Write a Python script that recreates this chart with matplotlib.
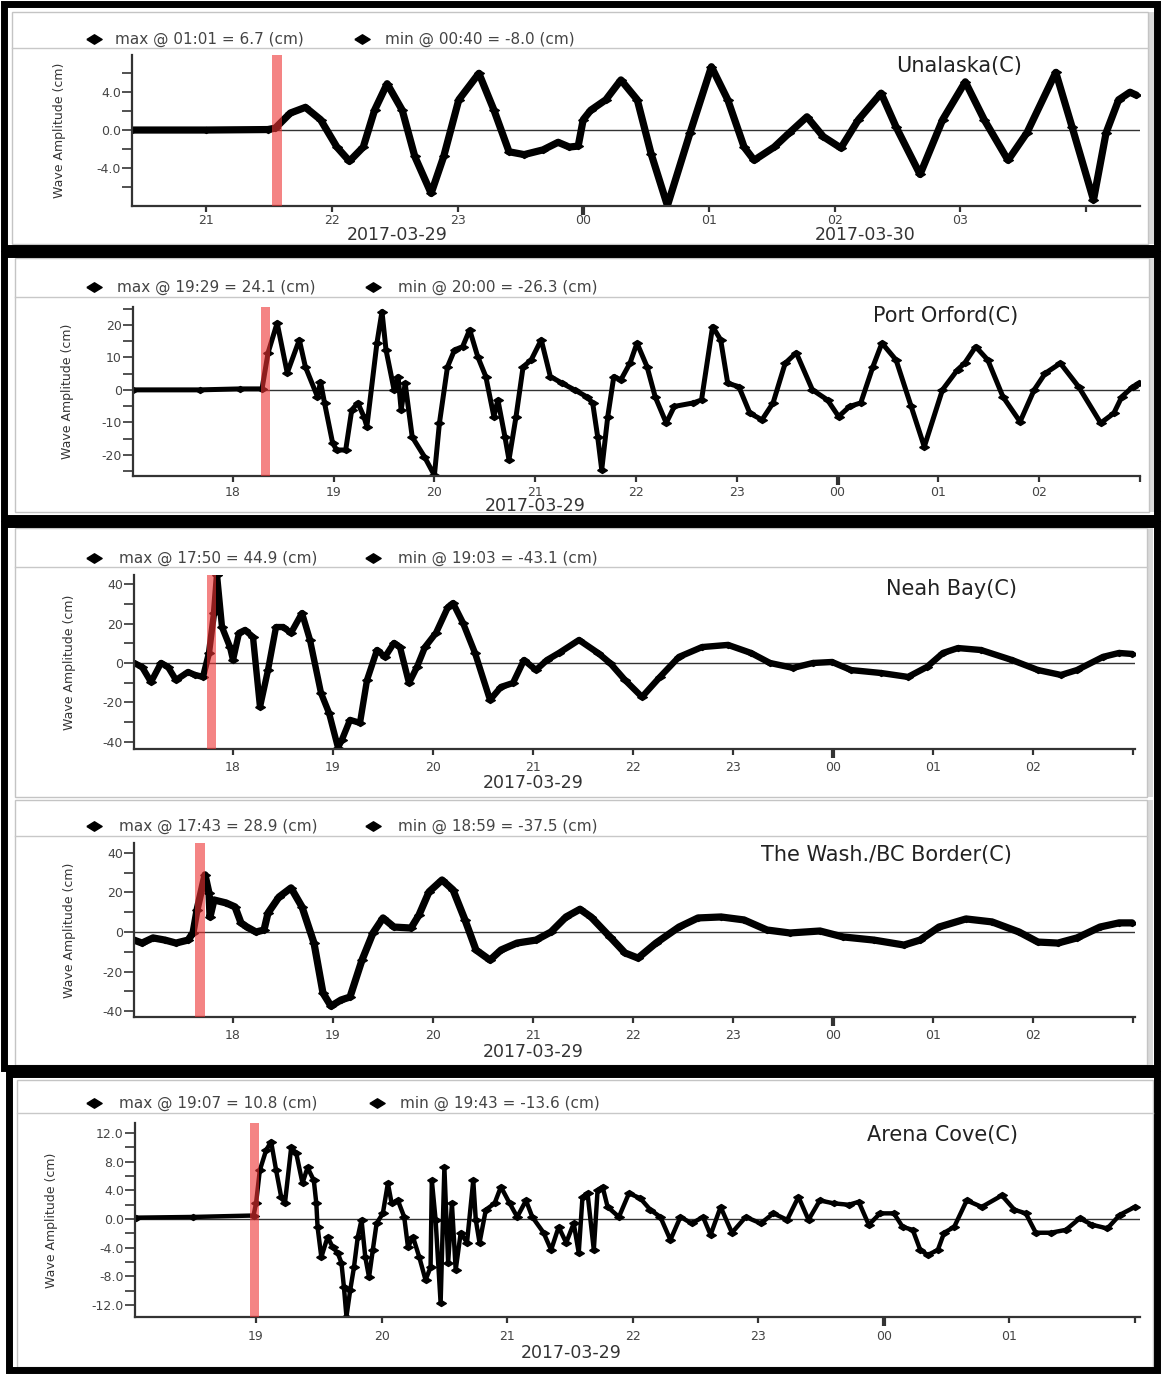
import matplotlib
matplotlib.use("Agg")
import matplotlib.pyplot as plt
from matplotlib.patches import Rectangle
from matplotlib.lines import Line2D
from matplotlib.ticker import FixedLocator, FormatStrFormatter

W, H = 1164, 1374

# wave records: (hour of 2017-03-29, amplitude in cm)
# hours past 24 fall on 2017-03-30
unalaska = [
    (20.41, 0.0), (21.0, 0.0), (21.49, 0.05), (21.55, 0.2), (21.67, 1.8), (21.79, 2.4),
    (21.91, 1.1), (22.04, -1.8), (22.14, -3.3), (22.25, -1.8), (22.34, 2.1), (22.44, 4.9),
    (22.56, 2.1), (22.66, -2.8), (22.79, -6.7), (22.89, -2.8), (23.01, 3.2), (23.17, 6.0),
    (23.29, 2.1), (23.41, -2.3), (23.53, -2.6), (23.68, -2.1), (23.80, -1.3), (23.89, -1.8),
    (23.96, -1.7), (24.00, 1.1), (24.06, 2.1), (24.18, 3.2), (24.30, 5.3), (24.43, 3.2),
    (24.54, -2.5), (24.67, -8.0), (24.85, -0.3), (25.02, 6.7), (25.15, 3.2), (25.28, -1.8),
    (25.36, -3.2), (25.52, -1.8), (25.64, -0.3), (25.78, 1.4), (25.91, -0.7), (26.05, -1.9),
    (26.19, 1.1), (26.37, 3.9), (26.49, 0.3), (26.68, -4.7), (26.86, 1.1), (27.04, 5.1),
    (27.19, 1.1), (27.38, -3.2), (27.53, -0.3), (27.76, 6.1), (27.89, 0.3), (28.06, -7.4),
    (28.16, -0.3), (28.26, 3.2), (28.35, 4.0), (28.40, 3.7),
]

port_orford = [
    (17.01, 0.0), (17.67, 0.0), (18.07, 0.3), (18.29, 0.3), (18.35, 11.4), (18.44, 20.6),
    (18.54, 5.2), (18.66, 15.4), (18.72, 7.1), (18.84, -2.1), (18.87, 2.5), (18.91, -4.0),
    (18.99, -16.3), (19.03, -18.5), (19.12, -18.5), (19.18, -6.2), (19.24, -4.0), (19.30, -8.2),
    (19.33, -11.3), (19.43, 14.4), (19.48, 24.1), (19.52, 12.3), (19.60, 0.0), (19.64, 4.1),
    (19.67, -6.2), (19.71, 2.0), (19.78, -14.5), (19.90, -20.5), (20.00, -26.3), (20.05, -10.2),
    (20.13, 7.1), (20.20, 12.3), (20.28, 13.3), (20.35, 18.5), (20.43, 10.2), (20.51, 4.1),
    (20.59, -8.2), (20.63, -3.1), (20.70, -14.5), (20.74, -21.5), (20.81, -8.2), (20.88, 7.1),
    (20.96, 9.2), (21.06, 15.4), (21.15, 4.1), (21.27, 2.0), (21.39, 0.0), (21.51, -2.1),
    (21.57, -4.0), (21.62, -14.5), (21.66, -24.6), (21.72, -8.2), (21.78, 4.1), (21.85, 3.1),
    (21.94, 8.2), (22.01, 14.4), (22.11, 7.1), (22.19, -2.1), (22.30, -10.2), (22.38, -5.1),
    (22.57, -4.0), (22.65, -3.1), (22.76, 19.5), (22.84, 15.4), (22.91, 2.0), (23.02, 1.0),
    (23.13, -7.2), (23.25, -9.2), (23.36, -4.0), (23.48, 8.2), (23.59, 11.4), (23.75, 0.0),
    (23.90, -3.1), (24.01, -8.2), (24.12, -5.1), (24.23, -4.0), (24.35, 7.1), (24.44, 14.4),
    (24.58, 9.2), (24.73, -5.1), (24.86, -17.5), (25.04, 0.0), (25.19, 6.2), (25.26, 8.2),
    (25.37, 13.3), (25.49, 9.2), (25.64, -2.1), (25.81, -9.8), (25.95, 0.0), (26.06, 5.1),
    (26.21, 8.2), (26.39, 1.0), (26.61, -10.2), (26.74, -7.2), (26.82, -2.1), (26.93, 1.0),
    (26.99, 2.0),
]

neah_bay = [
    (17.01, 0.0), (17.09, -2.0), (17.18, -9.7), (17.28, 0.0), (17.35, -2.0), (17.43, -8.7),
    (17.55, -4.6), (17.62, -6.1), (17.70, -7.1), (17.76, 5.1), (17.81, 25.4), (17.84, 44.9),
    (17.89, 18.3), (17.97, 8.1), (18.00, 1.5), (18.06, 15.3), (18.12, 16.8), (18.20, 13.2),
    (18.27, -22.4), (18.35, -3.6), (18.43, 18.3), (18.50, 18.3), (18.58, 15.3), (18.69, 25.4),
    (18.77, 11.7), (18.88, -15.3), (18.96, -25.4), (19.05, -43.1), (19.09, -39.0), (19.17, -29.0),
    (19.27, -30.5), (19.34, -8.7), (19.44, 6.6), (19.52, 3.1), (19.61, 10.2), (19.67, 8.1),
    (19.76, -10.2), (19.84, -2.0), (19.92, 8.1), (20.03, 15.3), (20.15, 28.5), (20.20, 30.5),
    (20.30, 20.4), (20.42, 5.1), (20.57, -18.8), (20.68, -12.2), (20.80, -10.2), (20.91, 1.5),
    (21.03, -3.6), (21.14, 1.5), (21.26, 5.1), (21.46, 11.7), (21.65, 5.1), (21.77, 0.0),
    (21.92, -8.7), (22.09, -17.3), (22.27, -7.1), (22.46, 3.1), (22.69, 8.1), (22.95, 9.2),
    (23.18, 5.1), (23.37, 0.0), (23.60, -2.5), (23.80, 0.0), (23.99, 0.5), (24.18, -3.6),
    (24.48, -5.1), (24.75, -7.1), (24.94, -2.0), (25.10, 5.1), (25.25, 7.6), (25.48, 6.6),
    (25.79, 1.5), (26.05, -3.6), (26.28, -6.1), (26.44, -3.6), (26.70, 3.1), (26.86, 5.1),
    (26.99, 4.6),
]

wash_bc = [
    (17.01, -4.1), (17.09, -5.6), (17.20, -3.0), (17.32, -4.1), (17.43, -5.6), (17.55, -4.1),
    (17.60, -0.5), (17.64, 11.1), (17.72, 28.9), (17.76, 19.7), (17.77, 7.6), (17.81, 16.2),
    (17.93, 14.7), (18.02, 12.7), (18.08, 4.6), (18.14, 2.5), (18.23, 0.0), (18.31, 1.0),
    (18.35, 9.6), (18.46, 17.7), (18.58, 22.3), (18.69, 12.7), (18.81, -5.6), (18.90, -30.9),
    (18.98, -37.5), (19.08, -34.4), (19.17, -32.9), (19.29, -14.2), (19.40, -0.5), (19.50, 7.1),
    (19.61, 2.5), (19.78, 2.0), (19.86, 8.6), (19.96, 20.3), (20.09, 26.3), (20.20, 21.3),
    (20.32, 6.1), (20.43, -9.1), (20.57, -14.2), (20.68, -9.1), (20.84, -5.6), (21.03, -4.1),
    (21.18, 0.0), (21.33, 7.6), (21.47, 11.5), (21.58, 7.6), (21.77, -2.5), (21.92, -10.6),
    (22.05, -13.2), (22.23, -5.6), (22.46, 2.5), (22.65, 7.1), (22.88, 7.6), (23.11, 6.1),
    (23.34, 1.0), (23.57, -0.5), (23.87, 0.5), (24.10, -2.5), (24.41, -4.1), (24.71, -6.6),
    (24.87, -4.1), (25.06, 2.5), (25.33, 6.6), (25.59, 5.1), (25.86, 0.0), (26.05, -5.1),
    (26.25, -5.6), (26.44, -3.0), (26.67, 2.5), (26.86, 4.6), (26.99, 4.6),
]

arena_cove = [
    (18.04, 0.2), (18.50, 0.3), (18.98, 0.5), (19.00, 2.2), (19.03, 6.8), (19.08, 9.6),
    (19.12, 10.8), (19.16, 6.8), (19.20, 3.1), (19.23, 2.2), (19.28, 10.0), (19.32, 9.2),
    (19.37, 5.0), (19.41, 7.2), (19.46, 5.4), (19.48, 2.2), (19.49, -1.1), (19.52, -5.3),
    (19.57, -2.5), (19.61, -3.9), (19.65, -4.7), (19.68, -6.1), (19.70, -9.5), (19.72, -13.6),
    (19.75, -9.9), (19.78, -6.7), (19.81, -2.5), (19.84, -0.1), (19.87, -5.3), (19.90, -8.1),
    (19.93, -4.3), (19.96, -0.6), (20.01, 0.8), (20.05, 5.0), (20.08, 2.2), (20.13, 2.6),
    (20.18, 0.3), (20.21, -3.9), (20.25, -2.5), (20.30, -5.3), (20.35, -8.5), (20.39, -6.7),
    (20.40, 5.4), (20.43, -0.1), (20.47, -11.7), (20.50, 7.2), (20.53, -6.1), (20.56, 2.2),
    (20.59, -7.1), (20.63, -1.9), (20.68, -3.3), (20.73, 5.4), (20.75, -0.1), (20.78, -3.3),
    (20.83, 1.3), (20.90, 2.2), (20.95, 4.5), (21.02, 2.2), (21.08, 0.3), (21.15, 2.6),
    (21.20, 0.3), (21.29, -1.9), (21.35, -4.3), (21.41, -1.1), (21.47, -3.3), (21.53, -0.6),
    (21.57, -4.7), (21.60, 3.1), (21.64, 3.6), (21.69, -4.3), (21.72, 4.0), (21.76, 4.5),
    (21.80, 1.7), (21.89, 0.3), (21.97, 3.6), (22.06, 2.9), (22.14, 1.3), (22.22, 0.3),
    (22.30, -2.9), (22.38, 0.3), (22.47, -0.6), (22.56, 0.3), (22.62, -2.2), (22.70, 1.7),
    (22.79, -1.9), (22.90, 0.3), (23.02, -0.6), (23.12, 0.8), (23.23, -0.1), (23.32, 3.1),
    (23.40, -0.1), (23.49, 2.6), (23.60, 2.2), (23.72, 2.0), (23.80, 2.4), (23.88, -0.8),
    (23.97, 0.8), (24.08, 0.8), (24.15, -1.1), (24.23, -1.5), (24.29, -4.3), (24.35, -5.0),
    (24.43, -4.3), (24.48, -1.9), (24.56, -1.1), (24.66, 2.6), (24.78, 1.7), (24.94, 3.3),
    (25.04, 1.3), (25.13, 0.8), (25.21, -1.9), (25.33, -1.9), (25.45, -1.5), (25.56, 0.1),
    (25.66, -0.8), (25.78, -1.3), (25.88, 0.6), (26.00, 1.7),
]

records = [unalaska, port_orford, neah_bay, wash_bc, arena_cove]
stations = ["Unalaska(C)", "Port Orford(C)", "Neah Bay(C)",
            "The Wash./BC Border(C)", "Arena Cove(C)"]
max_labels = ["max @ 01:01 = 6.7 (cm)", "max @ 19:29 = 24.1 (cm)",
              "max @ 17:50 = 44.9 (cm)", "max @ 17:43 = 28.9 (cm)",
              "max @ 19:07 = 10.8 (cm)"]
min_labels = ["min @ 00:40 = -8.0 (cm)", "min @ 20:00 = -26.3 (cm)",
              "min @ 19:03 = -43.1 (cm)", "min @ 18:59 = -37.5 (cm)",
              "min @ 19:43 = -13.6 (cm)"]
arrival_hr = [21.56, 18.32, 17.79, 17.67, 18.99]
hour_ticks = [list(range(21, 29)), list(range(18, 28)), list(range(18, 28)),
              list(range(18, 28)), list(range(19, 27))]
date_labels = [[("2017-03-29", 22.52), ("2017-03-30", 26.24)],
               [("2017-03-29", 21.0)], [("2017-03-29", 21.0)],
               [("2017-03-29", 21.0)], [("2017-03-29", 21.51)]]
y_major = [[-4, 0, 4], [-20, -10, 0, 10, 20], [-40, -20, 0, 20, 40],
           [-40, -20, 0, 20, 40], [-12, -8, -4, 0, 4, 8, 12]]
y_minor = [[-6, -2, 2, 6], [-25, -15, -5, 5, 15, 25], [-30, -10, 10, 30],
           [-30, -10, 10, 30], [-10, -6, -2, 2, 6, 10]]
y_fmt = ["%.1f", "%d", "%d", "%d", "%.1f"]

# layout in pixels of the 1164x1374 picture
layout = [
    dict(ax=(132, 55, 1140, 206), xlim=(20.41, 28.43), ylim=(-8.04, 7.94), leg_y=39,
         leg_x=(94, 115, 362, 385), sep=48, frame=(12, 12, 1148, 244), title=(1022, 66),
         ylab=59, pad=1.0, date_off=21, band=0.08, lw=5.2),
    dict(ax=(133, 307, 1140, 476), xlim=(17.01, 26.99), ylim=(-26.5, 25.5), leg_y=287,
         leg_x=(94, 117, 373, 398), sep=297, frame=(15, 258, 1149, 512), title=(1018, 316),
         ylab=67, pad=2.5, date_off=21.5, band=0.09, lw=3.6),
    dict(ax=(134, 575, 1135, 749), xlim=(17.01, 27.02), ylim=(-43.8, 44.8), leg_y=558,
         leg_x=(94, 119, 373, 398), sep=567, frame=(15, 528, 1147, 797), title=(1017, 589),
         ylab=69, pad=4.0, date_off=24.5, band=0.09, lw=4.6),
    dict(ax=(134, 843, 1135, 1017), xlim=(17.01, 27.02), ylim=(-43.0, 45.0), leg_y=826,
         leg_x=(94, 119, 373, 398), sep=836, frame=(15, 800, 1147, 1065), title=(1012, 855),
         ylab=69, pad=4.0, date_off=25, band=0.09, lw=5.2),
    dict(ax=(135, 1123, 1140, 1317), xlim=(18.036, 26.04), ylim=(-13.65, 13.4), leg_y=1103,
         leg_x=(94, 119, 377, 400), sep=1113, frame=(17, 1080, 1153, 1367), title=(1018, 1135),
         ylab=52, pad=5.0, date_off=26, band=0.075, lw=3.2),
]

boxes = [(4, 4, 1157, 248), (4, 254, 1157, 518), (4, 524, 1157, 1068), (9, 1074, 1157, 1370)]

flat_diamond = [(-1, 0), (0, 0.62), (1, 0), (0, -0.62), (-1, 0)]

plt.rcParams["font.family"] = ["DejaVu Sans"]
fig = plt.figure(figsize=(W / 100, H / 100), dpi=100)
fig.patch.set_facecolor("white")


def fx(x):
    return x / W


def fy(y):
    return 1 - y / H


for i, rec in enumerate(records):
    L = layout[i]
    l, t, r, b = L["ax"]

    # light panel frame, scroll strip and legend separator
    fl, ft, fr, fb = L["frame"]
    fig.add_artist(Rectangle((fx(fr), fy(fb)), 6 / W, (fb - ft) / H,
                             transform=fig.transFigure, fc="#d9d9d9", ec="none"))
    fig.add_artist(Rectangle((fx(fl), fy(fb)), (fr - fl) / W, (fb - ft) / H,
                             transform=fig.transFigure, fill=False, ec="#c4c4c4", lw=1.0))
    fig.add_artist(Line2D([fx(fl), fx(fr)], [fy(L["sep"]), fy(L["sep"])],
                          transform=fig.transFigure, color="#c8c8c8", lw=1.0))

    # legend row
    d1, t1, d2, t2 = L["leg_x"]
    for dx, tx, txt in [(d1, t1, max_labels[i]), (d2, t2, min_labels[i])]:
        fig.add_artist(Line2D([fx(dx)], [fy(L["leg_y"])], transform=fig.transFigure,
                              marker=flat_diamond, ms=11, color="black", ls="none"))
        fig.text(fx(tx), fy(L["leg_y"]), txt, fontsize=11, color="#444444",
                 ha="left", va="center")

    ax = fig.add_axes([fx(l), fy(b), (r - l) / W, (b - t) / H])
    hrs = [p[0] for p in rec]
    cm = [p[1] for p in rec]
    ax.axhline(0, color="#333333", lw=1.0, zorder=1)
    ax.plot(hrs, cm, color="black", lw=L["lw"], marker=flat_diamond, ms=7,
            solid_joinstyle="round", solid_capstyle="round", zorder=2)
    ax.axvspan(arrival_hr[i] - L["band"] / 2, arrival_hr[i] + L["band"] / 2,
               color="#ee3333", alpha=0.6, lw=0, zorder=3)

    ax.set_xlim(*L["xlim"])
    ax.set_ylim(*L["ylim"])

    ticks = hour_ticks[i]
    ax.set_xticks(ticks)
    ax.set_xticklabels(["%02d" % (h % 24) for h in ticks[:-1]] + [""])
    ax.yaxis.set_major_locator(FixedLocator(y_major[i]))
    ax.yaxis.set_minor_locator(FixedLocator(y_minor[i]))
    ax.yaxis.set_major_formatter(FormatStrFormatter(y_fmt[i]))

    for side in ["top", "right"]:
        ax.spines[side].set_visible(False)
    for side in ["left", "bottom"]:
        ax.spines[side].set_color("#333333")
        ax.spines[side].set_linewidth(1.6)

    ax.tick_params(axis="x", direction="out", length=4.5, width=1.6, color="#333333",
                   labelsize=9, labelcolor="#444444", pad=L["pad"])
    ax.tick_params(axis="y", which="both", direction="out", length=7, width=1.2,
                   color="#333333", labelsize=9, labelcolor="#444444", pad=1)
    for tk, h in zip(ax.xaxis.get_major_ticks(), ticks):
        if h % 24 == 0:
            tk.tick1line.set_markeredgewidth(3.0)
            tk.tick1line.set_markersize(6.5)

    ax.set_ylabel("Wave Amplitude (cm)", fontsize=9, color="#333333")
    ax.yaxis.label.set_verticalalignment("center")
    ax.yaxis.set_label_coords((L["ylab"] - l) / (r - l), 0.5)

    for txt, h in date_labels[i]:
        ax.annotate(txt, xy=(h, 0), xycoords=ax.get_xaxis_transform(),
                    xytext=(0, -L["date_off"]), textcoords="offset points",
                    ha="center", va="center", fontsize=12.5, color="#333333",
                    annotation_clip=False)

    tx, ty = L["title"]
    fig.text(fx(tx), fy(ty), stations[i], fontsize=15, color="#222222",
             ha="right", va="center")

# heavy black boxes grouping the panels
for x0, y0, x1, y1 in boxes:
    fig.add_artist(Rectangle((fx(x0), fy(y1)), (x1 - x0) / W, (y1 - y0) / H,
                             transform=fig.transFigure, fill=False, ec="black", lw=5))

fig.savefig("out.png", dpi=100)
